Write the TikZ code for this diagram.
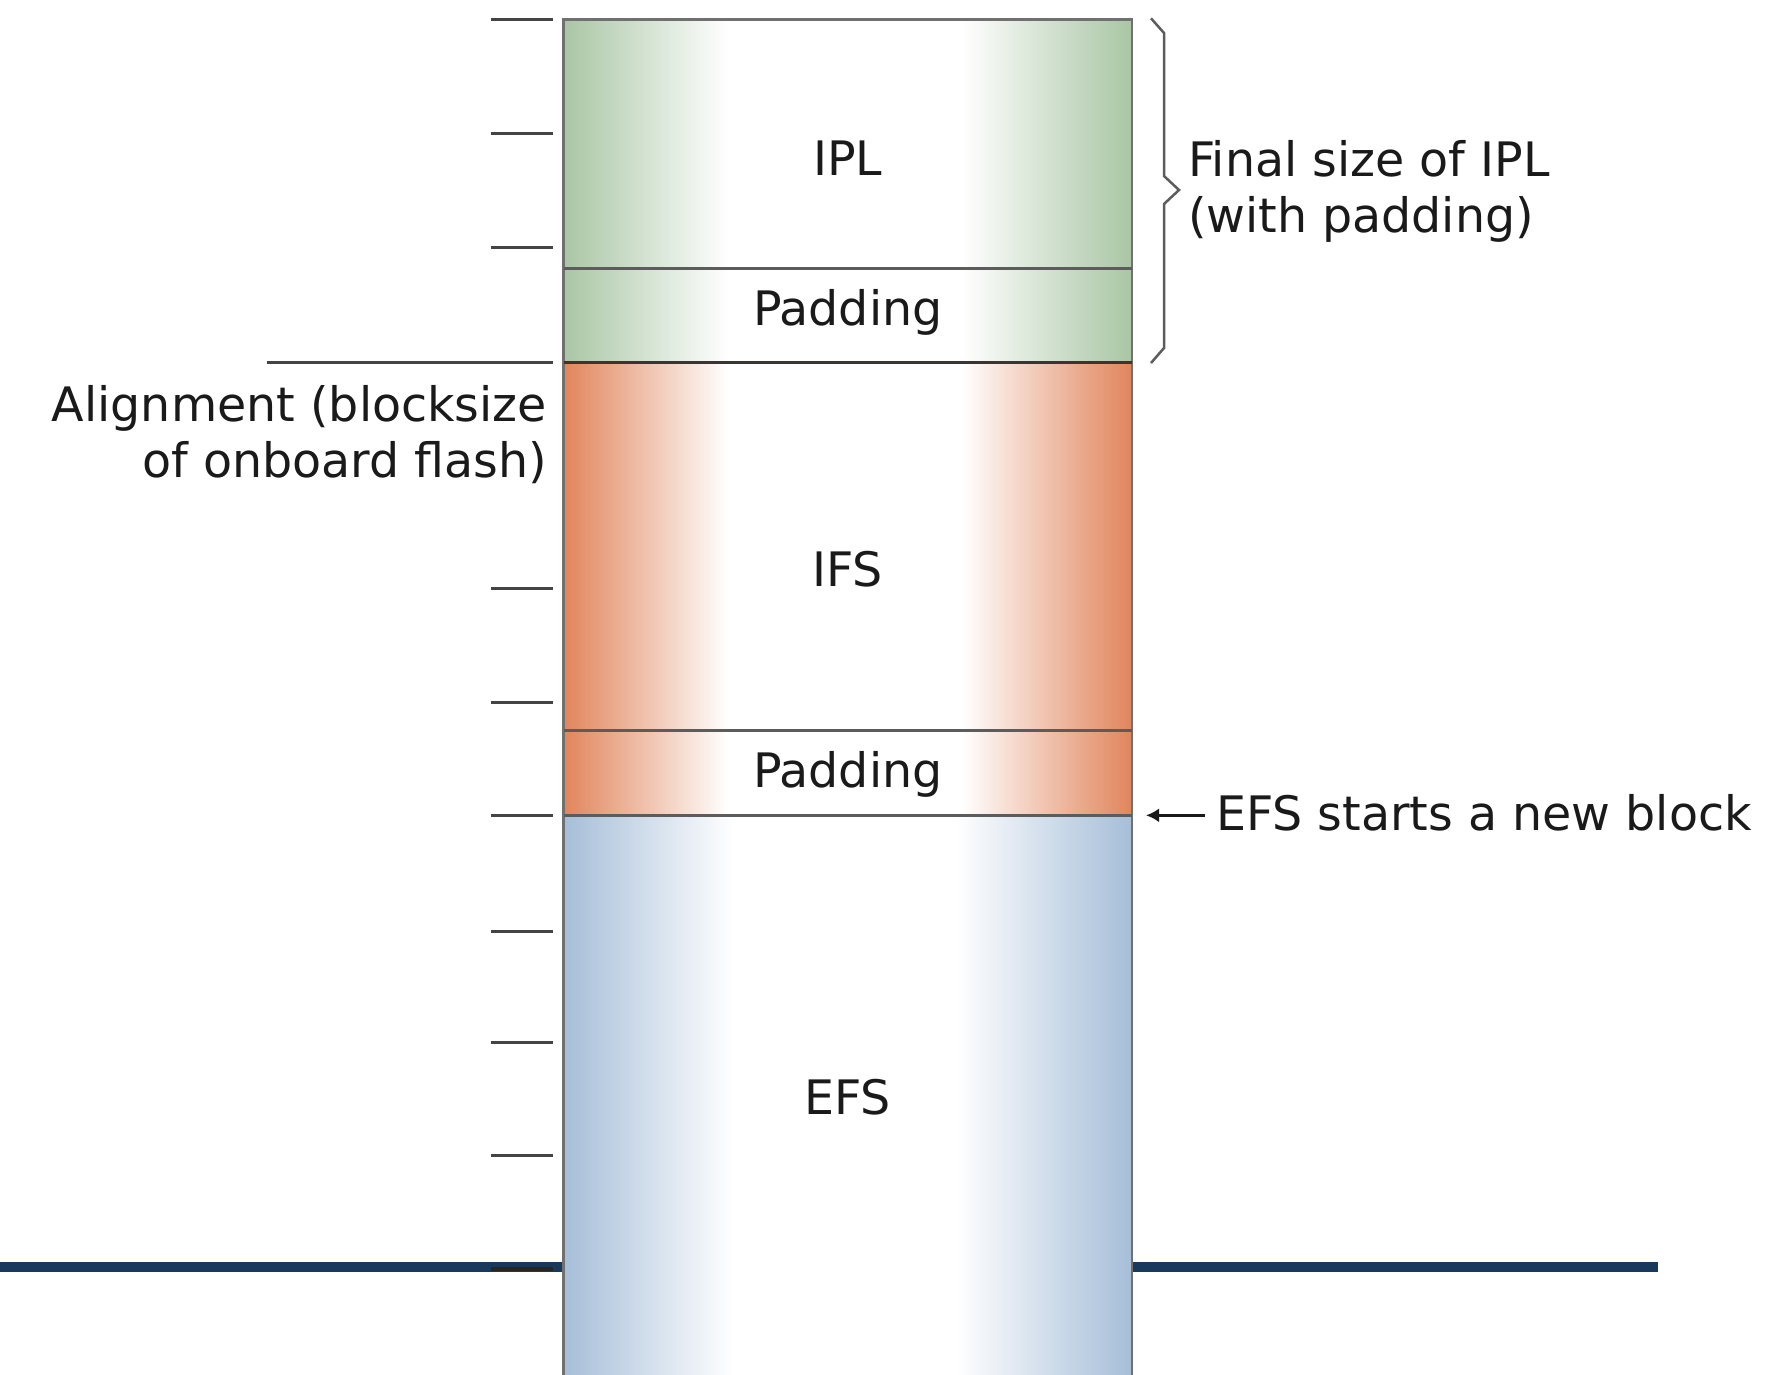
\documentclass[tikz,border=0pt]{standalone}
\usepackage{fontspec}
\setmainfont{DejaVu Sans}
\usetikzlibrary{arrows.meta}

\definecolor{iplgreen}{RGB}{169,198,164}
\definecolor{ifsorange}{RGB}{225,133,92}
\definecolor{efsblue}{RGB}{166,190,216}
\definecolor{rulegray}{RGB}{112,112,112}
\definecolor{sepgray}{RGB}{92,92,92}
\definecolor{sepdark}{RGB}{58,52,50}
\definecolor{tickgray}{RGB}{68,68,68}
\definecolor{navy}{RGB}{24,57,91}
\definecolor{ink}{RGB}{26,26,26}

% colour at both edges, white plateau in the middle
\pgfdeclarehorizontalshading{greenband}{100bp}{color(0bp)=(iplgreen); color(25bp)=(iplgreen); color(39.5bp)=(white); color(60bp)=(white); color(75bp)=(iplgreen); color(100bp)=(iplgreen)}
\pgfdeclarehorizontalshading{orangeband}{100bp}{color(0bp)=(ifsorange); color(25bp)=(ifsorange); color(39.5bp)=(white); color(60bp)=(white); color(75bp)=(ifsorange); color(100bp)=(ifsorange)}
\pgfdeclarehorizontalshading{blueband}{100bp}{color(0bp)=(efsblue); color(25bp)=(efsblue); color(40bp)=(white); color(59.5bp)=(white); color(75bp)=(efsblue); color(100bp)=(efsblue)}

\tikzset{
  seg/.style={draw=rulegray, line width=2.6pt, shade, inner sep=0pt, outer sep=0pt,
              minimum width=568.2pt, anchor=north west},
  lbl/.style={inner sep=0pt, outer sep=0pt, text=ink, font=\fontsize{47.5}{56}\selectfont},
  tickmark/.style={draw=tickgray, line width=3pt},
  bracepath/.style={draw=sepgray, line width=2.5pt, line join=miter},
  pointer/.style={draw=ink, line width=3pt, -{Latex[length=13pt,width=14pt]}},
}

\begin{document}
\begin{tikzpicture}[x=1pt, y=-1pt]
  \useasboundingbox (0,0) rectangle (1778,1374);
  \clip (0,0) rectangle (1778,1374);

  % horizontal rule behind the column
  \draw[navy, line width=10pt] (0,1267) -- (1658,1267);

  % memory column
  \node[seg, shading=greenband, minimum height=249.4pt] (ipl) at (563.6,19.3) {};
  \node[seg, shading=greenband, minimum height=94.2pt] (pada) at (563.6,268.7) {};
  \node[seg, shading=orangeband, minimum height=367.3pt] (ifs) at (563.6,362.9) {};
  \node[seg, shading=orangeband, minimum height=85.1pt] (padb) at (563.6,730.2) {};
  \node[seg, shading=blueband, minimum height=600pt] (efs) at (563.6,815.3) {};

  % section separators
  \draw[sepgray, line width=3pt] (ipl.south west) -- (ipl.south east);
  \draw[sepdark, line width=3pt] (pada.south west) -- (pada.south east);
  \draw[sepgray, line width=3pt] (ifs.south west) -- (ifs.south east);
  \draw[sepgray, line width=3pt] (padb.south west) -- (padb.south east);

  % scale ticks on the left
  \foreach \ty in {19.3,133.8,247.2,588,702,815.3,931,1042,1155.5}
    \draw[tickmark] (491,\ty) -- (553,\ty);
  \draw[tickmark] (267,362.9) -- (553,362.9);
  \draw[draw=black!85, line width=4pt] (491,1269) -- (553,1269);

  % section names
  \node[lbl, anchor=base] (ipltxt) at (847.7,175.7) {IPL};
  \node[lbl, anchor=base] (padatxt) at (847.7,325) {Padding};
  \node[lbl, anchor=base] (ifstxt) at (847.7,586) {IFS};
  \node[lbl, anchor=base] (padbtxt) at (847.7,787.3) {Padding};
  \node[lbl, anchor=base] (efstxt) at (847.7,1114) {EFS};

  % annotations
  \node[lbl, anchor=north west, align=left] (finaltxt) at (1188,140.3)
    {Final size of IPL\\(with padding)};
  \node[lbl, anchor=north east, align=right] (aligntxt) at (547,385.3)
    {Alignment (blocksize\\of onboard flash)};
  \node[lbl, anchor=base west] (efsnote) at (1216,830) {EFS starts a new block};

  % brace spanning IPL and its padding
  \coordinate (bracetop) at (1151,18.3);
  \coordinate (bracetip) at (1179,190);
  \coordinate (bracebot) at (1151,363);
  \draw[bracepath] (bracetop) -- (1164,33) -- (1164,176) -- (bracetip)
    -- (1164,204) -- (1164,348) -- (bracebot);

  % pointer to the start of EFS
  \coordinate (efsmark) at (1146,815.3);
  \draw[pointer, shorten <=11pt] (efsmark -| efsnote.west) -- (efsmark);
\end{tikzpicture}
\end{document}
